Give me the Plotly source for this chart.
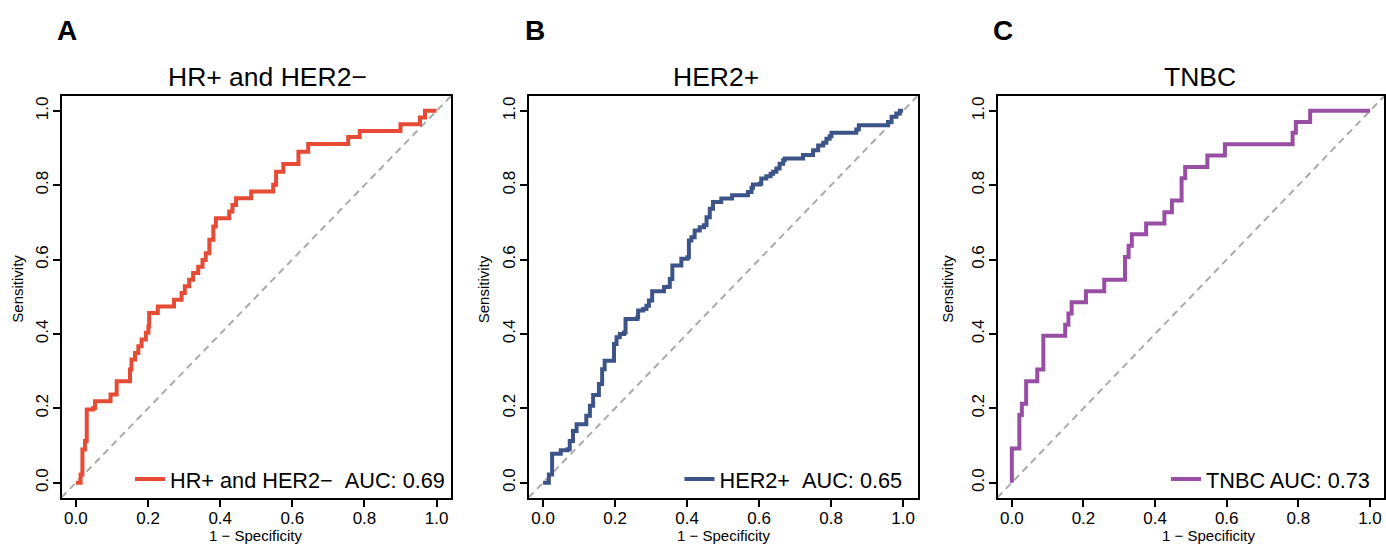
import plotly.graph_objects as go

FONT = "Liberation Sans, Arial, Helvetica, sans-serif"
W, H = 1386, 544

AXIS_RANGE = [-0.04, 1.04]
TICK_VALUES = [0.0, 0.2, 0.4, 0.6, 0.8, 1.0]
TICK_LABELS = ["0.0", "0.2", "0.4", "0.6", "0.8", "1.0"]

PANEL_LETTERS = ["A", "B", "C"]
PANEL_TITLES = ["HR+ and HER2\u2212", "HER2+", "TNBC"]
LEGEND_LABELS = ["HR+ and HER2\u2212\u00a0\u00a0AUC: 0.69",
                 "HER2+\u00a0\u00a0AUC: 0.65",
                 "TNBC AUC: 0.73"]
COLORS = ["#E64B35", "#3C5488", "#984EA3"]
X_TITLE = "1 \u2212 Specificity"
Y_TITLE = "Sensitivity"

# ROC curve vertices (1 - specificity, sensitivity)
hr_fpr = [0.0, 0.011, 0.013, 0.018, 0.025, 0.030, 0.048, 0.053, 0.094, 0.096, 0.111, 0.113,
          0.148, 0.150, 0.154, 0.164, 0.173, 0.182, 0.194, 0.201, 0.203, 0.226, 0.227, 0.270,
          0.272, 0.290, 0.293, 0.302, 0.314, 0.325, 0.339, 0.351, 0.360, 0.370, 0.381, 0.388,
          0.422, 0.425, 0.434, 0.444, 0.484, 0.486, 0.543, 0.547, 0.555, 0.573, 0.575, 0.617,
          0.617, 0.644, 0.644, 0.752, 0.755, 0.786, 0.787, 0.898, 0.900, 0.952, 0.954, 0.968, 1.0]
hr_tpr = [0.0, 0.0, 0.022, 0.089, 0.112, 0.197, 0.201, 0.219, 0.219, 0.237, 0.237, 0.273,
          0.273, 0.304, 0.331, 0.349, 0.367, 0.385, 0.403, 0.420, 0.456, 0.456, 0.474, 0.474,
          0.492, 0.492, 0.510, 0.528, 0.546, 0.564, 0.581, 0.599, 0.617, 0.653, 0.689, 0.711,
          0.711, 0.729, 0.747, 0.765, 0.765, 0.783, 0.783, 0.801, 0.836, 0.836, 0.857, 0.857,
          0.890, 0.890, 0.911, 0.911, 0.930, 0.930, 0.946, 0.946, 0.964, 0.964, 0.982, 1.0, 1.0]

her2_fpr = [0.0, 0.012, 0.016, 0.025, 0.046, 0.049, 0.068, 0.074, 0.083, 0.093, 0.116, 0.120,
            0.130, 0.139, 0.153, 0.155, 0.164, 0.171, 0.194, 0.197, 0.204, 0.213, 0.225, 0.229,
            0.262, 0.264, 0.278, 0.287, 0.294, 0.303, 0.333, 0.336, 0.347, 0.352, 0.359, 0.382,
            0.384, 0.401, 0.405, 0.412, 0.421, 0.435, 0.447, 0.454, 0.463, 0.472, 0.491, 0.495,
            0.521, 0.525, 0.565, 0.569, 0.579, 0.583, 0.602, 0.606, 0.620, 0.632, 0.639, 0.648,
            0.657, 0.667, 0.671, 0.718, 0.722, 0.745, 0.750, 0.764, 0.778, 0.787, 0.796, 0.801,
            0.866, 0.870, 0.877, 0.949, 0.958, 0.968, 0.981, 0.991, 1.0]
her2_tpr = [0.0, 0.0, 0.022, 0.078, 0.078, 0.087, 0.090, 0.112, 0.139, 0.157, 0.157, 0.180,
            0.207, 0.236, 0.236, 0.265, 0.305, 0.328, 0.328, 0.373, 0.391, 0.400, 0.404, 0.440,
            0.445, 0.463, 0.467, 0.476, 0.490, 0.515, 0.515, 0.526, 0.527, 0.548, 0.584, 0.584,
            0.602, 0.606, 0.651, 0.660, 0.678, 0.687, 0.692, 0.714, 0.737, 0.755, 0.755, 0.764,
            0.764, 0.773, 0.773, 0.782, 0.793, 0.802, 0.804, 0.818, 0.824, 0.831, 0.836, 0.845,
            0.858, 0.867, 0.872, 0.872, 0.881, 0.881, 0.894, 0.907, 0.914, 0.925, 0.932, 0.941,
            0.941, 0.950, 0.961, 0.961, 0.970, 0.984, 0.993, 1.0, 1.0]

tnbc_fpr = [0.0, 0.0, 0.021, 0.021, 0.028, 0.028, 0.040, 0.040, 0.071, 0.071, 0.088, 0.088,
            0.149, 0.149, 0.158, 0.158, 0.167, 0.167, 0.207, 0.207, 0.258, 0.258, 0.316, 0.316,
            0.326, 0.326, 0.335, 0.335, 0.375, 0.375, 0.426, 0.426, 0.447, 0.447, 0.474, 0.474,
            0.484, 0.484, 0.546, 0.546, 0.595, 0.595, 0.784, 0.784, 0.793, 0.793, 0.833, 0.833, 1.0]
tnbc_tpr = [0.0, 0.092, 0.092, 0.182, 0.182, 0.212, 0.212, 0.273, 0.273, 0.304, 0.304, 0.395,
            0.395, 0.425, 0.425, 0.455, 0.455, 0.485, 0.485, 0.515, 0.515, 0.546, 0.546, 0.607,
            0.607, 0.637, 0.637, 0.668, 0.668, 0.697, 0.697, 0.727, 0.727, 0.759, 0.759, 0.819,
            0.819, 0.849, 0.849, 0.880, 0.880, 0.910, 0.910, 0.941, 0.941, 0.970, 0.970, 1.0, 1.0]

CURVES = [(hr_fpr, hr_tpr), (her2_fpr, her2_tpr), (tnbc_fpr, tnbc_tpr)]

# layout geometry (pixels)
X_DOMAINS_PX = [(61.5, 451.0), (528.7, 917.5), (997.5, 1384.3)]
Y_DOMAIN_PX = (96.0, 497.5)
TITLE_X_PX = [267.5, 716.0, 1200.0]
LETTER_X_PX = [55.0, 523.0, 991.0]
YLAB_X_PX = [16.7, 483.3, 946.7]
XLAB_X_PX = [255.8, 723.3, 1208.8]
LEGEND_X_PX = [130.0, 679.5, 1166.0]


def px(x):
    return x / W


def py(y):
    return 1 - y / H


fig = go.Figure()
annotations = []
layout = {}

for i in range(3):
    sfx = "" if i == 0 else str(i + 1)
    xa, ya = "x" + sfx, "y" + sfx
    fpr, tpr = CURVES[i]
    fig.add_trace(go.Scatter(x=AXIS_RANGE, y=AXIS_RANGE, mode="lines", xaxis=xa, yaxis=ya,
                             line=dict(color="#AAAAAA", width=2, dash="7px,5px"),
                             showlegend=False, hoverinfo="skip"))
    fig.add_trace(go.Scatter(x=fpr, y=tpr, mode="lines", xaxis=xa, yaxis=ya,
                             line=dict(color=COLORS[i], width=4, shape="hv"),
                             name=LEGEND_LABELS[i], legend="legend" + sfx))
    common = dict(range=AXIS_RANGE, tickvals=TICK_VALUES, ticktext=TICK_LABELS,
                  showgrid=False, zeroline=False, showline=True, mirror=True,
                  linecolor="black", linewidth=2, ticks="outside", ticklen=7,
                  tickwidth=2, tickcolor="black",
                  tickfont=dict(family=FONT, size=17, color="black"))
    layout["xaxis" + sfx] = dict(common, domain=[px(X_DOMAINS_PX[i][0]), px(X_DOMAINS_PX[i][1])],
                                 anchor=ya, ticklabelstandoff=-3)
    layout["yaxis" + sfx] = dict(common, domain=[py(Y_DOMAIN_PX[1]), py(Y_DOMAIN_PX[0])],
                                 anchor=xa, tickangle=-90, ticklabelstandoff=-2)
    layout["legend" + sfx] = dict(x=px(LEGEND_X_PX[i]), y=py(479.5), xanchor="left", yanchor="middle",
                                  bgcolor="rgba(0,0,0,0)", borderwidth=0,
                                  font=dict(family=FONT, size=21.7, color="black"))
    annotations.append(dict(text="<b>%s</b>" % PANEL_LETTERS[i], x=px(LETTER_X_PX[i]), y=py(30),
                            xref="paper", yref="paper", xanchor="left", yanchor="middle",
                            showarrow=False, font=dict(family=FONT, size=28, color="black")))
    annotations.append(dict(text=PANEL_TITLES[i], x=px(TITLE_X_PX[i]), y=py(77),
                            xref="paper", yref="paper", xanchor="center", yanchor="middle",
                            showarrow=False, font=dict(family=FONT, size=26.5, color="black")))
    annotations.append(dict(text=Y_TITLE, x=px(YLAB_X_PX[i]), y=py(289), textangle=-90,
                            xref="paper", yref="paper", xanchor="center", yanchor="middle",
                            showarrow=False, font=dict(family=FONT, size=15, color="black")))
    annotations.append(dict(text=X_TITLE, x=px(XLAB_X_PX[i]), y=py(535.5),
                            xref="paper", yref="paper", xanchor="center", yanchor="middle",
                            showarrow=False, font=dict(family=FONT, size=15, color="black")))

fig.update_layout(**layout)
fig.update_layout(width=W, height=H, margin=dict(l=0, r=0, t=0, b=0),
                  paper_bgcolor="white", plot_bgcolor="white",
                  annotations=annotations, font=dict(family=FONT, color="black"))

fig.write_html("out.html", config={"displayModeBar": False},
               post_script="document.body.style.margin='0';")
